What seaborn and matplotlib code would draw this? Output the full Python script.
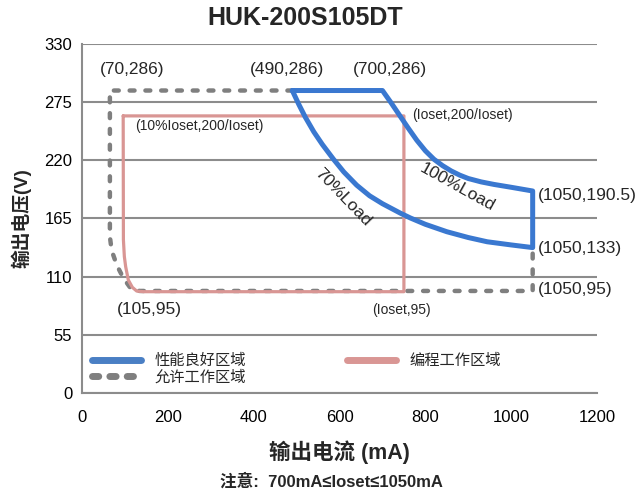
import matplotlib
matplotlib.use("Agg")
import matplotlib.pyplot as plt
import seaborn as sns
from matplotlib.lines import Line2D

# 性能良好区域 (blue): top edge, 100% load curve, right edge, 70% load curve back
good_i = [490, 700, 720, 740, 760, 780, 800, 820, 840, 860, 880, 900, 930, 960, 1000, 1050,
          1050, 1000, 944, 900, 850, 800, 765, 742, 700, 670, 640, 610, 586, 560, 540,
          520, 505, 490]
good_v = [286, 286, 274.5, 262.5, 250.5, 239, 229, 221, 215, 210, 206, 202.8, 199.6, 197.2,
          194.5, 191,
          137.5, 140, 143, 147, 152.5, 159.5, 165.5, 170, 179, 186.5, 196.5, 209, 221,
          235, 247, 261, 273, 286]

# 编程工作区域 (pink)
prog_i = [96, 750, 750, 143, 127.5, 117.4, 108, 101.8, 98.7, 96.5, 96]
prog_v = [262, 262, 95.8, 95.8, 96.4, 99.9, 106.8, 119.4, 129, 145, 262]

# 允许工作区域 (grey dashed)
allow_i = [490, 65, 65, 69, 81, 96, 116, 135, 1050, 1050]
allow_v = [286, 286, 148, 135, 121, 109, 97.5, 96.5, 96.5, 137.5]

x_ticks = [0, 200, 400, 600, 800, 1000, 1200]
y_ticks = [0, 55, 110, 165, 220, 275, 330]

point_labels = ["(70,286)", "(490,286)", "(700,286)", "(1050,190.5)", "(1050,133)",
                "(1050,95)", "(105,95)"]
small_labels = ["(Ioset,200/Ioset)", "(10%Ioset,200/Ioset)", "(Ioset,95)"]

BLUE = "#3a78d0"
PINK = "#d99694"
GREY = "#7f7f7f"
GRID = "#8c8c8c"

sns.set_theme(style="white")
plt.rcParams["font.family"] = ["Liberation Sans", "Noto Sans CJK SC", "DejaVu Sans"]

fig = plt.figure(figsize=(6.42, 4.93), dpi=100)
ax = fig.add_axes([0.1277, 0.2028, 0.8023, 0.708])

sns.lineplot(x=allow_i, y=allow_v, sort=False, estimator=None, ax=ax, color=GREY,
             lw=3.2, linestyle=(0, (1.1, 2.45)), dash_capstyle="round",
             solid_capstyle="round", zorder=3)
sns.lineplot(x=prog_i, y=prog_v, sort=False, estimator=None, ax=ax, color=PINK,
             lw=2.3, zorder=4)
sns.lineplot(x=good_i, y=good_v, sort=False, estimator=None, ax=ax, color=BLUE,
             lw=3.6, zorder=5)

ax.set_xlim(0, 1200)
ax.set_ylim(0, 330)
ax.set_xticks(x_ticks)
ax.set_yticks(y_ticks)
ax.yaxis.grid(True, color=GRID, lw=1.5)
ax.set_axisbelow(True)
for s in ["top", "right"]:
    ax.spines[s].set_visible(False)
for s in ["left", "bottom"]:
    ax.spines[s].set_color(GRID)
    ax.spines[s].set_linewidth(1.5)
ax.tick_params(axis="x", direction="in", length=3, width=1.5, color=GRID,
               pad=12, labelsize=12, labelcolor="black")
ax.tick_params(axis="y", length=0, pad=7, labelsize=12, labelcolor="black")

ax.set_xlabel("输出电流 (mA)", fontsize=15.5, fontweight="bold", labelpad=11)
ax.set_ylabel("输出电压(V)", fontsize=13.5, fontweight="bold", labelpad=9)
fig.text(0.476, 0.963, "HUK-200S105DT", ha="center", va="center", fontsize=18,
         fontweight="bold")
fig.text(0.517, 0.024, "注意:  700mA≤Ioset≤1050mA", ha="center", va="center",
         fontsize=12, fontweight="bold")

big_pos = [(116.6, 305.4, "center"), (478, 305.4, "center"), (718, 305.4, "center"),
           (1063, 187.2, "left"), (1061, 137.1, "left"), (1061, 97.4, "left"),
           (156, 78.5, "center")]
for lab, (px, py, ha) in zip(point_labels, big_pos):
    ax.text(px, py, lab, ha=ha, va="center", fontsize=12.5)
small_pos = [(886, 262.9), (273, 252.5), (744, 78.5)]
for lab, (px, py) in zip(small_labels, small_pos):
    ax.text(px, py, lab, ha="center", va="center", fontsize=10)

ax.text(608.7, 185.3, "70%Load", rotation=-46, ha="center", va="center",
        fontsize=12.5, rotation_mode="anchor")
ax.text(874.5, 194.8, "100%Load", rotation=-29, ha="center", va="center",
        fontsize=12.5, rotation_mode="anchor")

handles = [
    Line2D([], [], color="#4a7fc4", lw=5, solid_capstyle="round"),
    Line2D([], [], color=GREY, lw=5, linestyle=(0, (0.9, 1.6)), dash_capstyle="round"),
    Line2D([], [], color=PINK, lw=5, solid_capstyle="round"),
]
ax.legend(handles, ["性能良好区域", "允许工作区域", "编程工作区域"], ncol=2,
          loc="lower left", bbox_to_anchor=(0.02, 0.025), frameon=False,
          fontsize=11, handlelength=3.2, handletextpad=0.9, columnspacing=6.6,
          labelspacing=0.1, borderpad=0, borderaxespad=0)

fig.savefig("out.png", dpi=100)
